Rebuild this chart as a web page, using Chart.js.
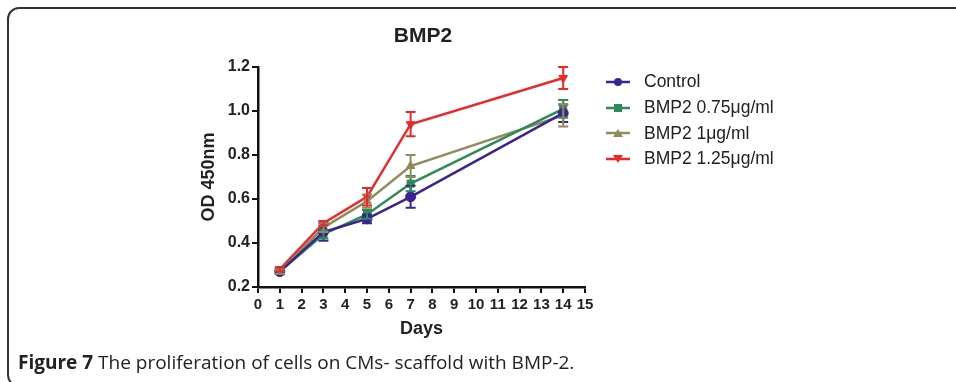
<!DOCTYPE html>
<html>
<head>
<meta charset="utf-8">
<script src="https://cdn.jsdelivr.net/npm/chart.js@4"></script>
<style>
  html, body { margin: 0; padding: 0; background: #fff; }
  body { width: 956px; height: 382px; position: relative; overflow: hidden; font-family: "Liberation Sans", Arial, sans-serif; }
  #frame { position: absolute; left: 7px; top: 7px; width: 980px; height: 380px; border: 2px solid #333; border-radius: 12px; box-sizing: border-box; }
  #wrap { position: absolute; left: 0; top: 0; width: 956px; height: 382px; }
  #title { position: absolute; left: 323px; width: 200px; top: 23px; text-align: center; font-weight: bold; font-size: 21px; color: #222; }
  #legend { position: absolute; left: 606px; top: 69px; font-size: 17.5px; color: #222; }
  #legend div { height: 25.7px; display: flex; align-items: center; }
  #legend svg { margin-right: 14px; }
  #caption { position: absolute; left: 18px; top: 349px; font-family: "Open Sans", sans-serif; font-size: 19px; color: #222; white-space: nowrap; }
</style>
</head>
<body>
<div id="frame"></div>
<div id="wrap"><canvas id="chart"></canvas></div>
<div id="title">BMP2</div>
<div id="legend"></div>
<div id="caption"><b>Figure 7</b> The proliferation of cells on CMs- scaffold with BMP-2.</div>
<script>
const days = [1, 3, 5, 7, 14];
const seriesNames = ['Control', 'BMP2 0.75\u03bcg/ml', 'BMP2 1\u03bcg/ml', 'BMP2 1.25\u03bcg/ml'];
const controlOD = [0.27, 0.45, 0.51, 0.61, 0.99];
const controlErr = [0.01, 0.04, 0.02, 0.05, 0.04];
const bmp075OD = [0.27, 0.44, 0.53, 0.67, 1.01];
const bmp075Err = [0.01, 0.02, 0.02, 0.035, 0.04];
const bmp1OD = [0.27, 0.47, 0.59, 0.75, 0.98];
const bmp1Err = [0.01, 0.02, 0.03, 0.05, 0.05];
const bmp125OD = [0.28, 0.49, 0.61, 0.94, 1.15];
const bmp125Err = [0.01, 0.01, 0.04, 0.055, 0.05];
const xTicks = [0, 15];
const yTicks = [0.2, 1.2];

const colors = ['#3b2390', '#2e8b57', '#8f8b5c', '#ea2a2a'];
const markers = ['circle', 'rect', 'triangle', 'triangle'];
const rotations = [0, 0, 0, 180];
const values = [controlOD, bmp075OD, bmp1OD, bmp125OD];
const errors = [controlErr, bmp075Err, bmp1Err, bmp125Err];

const datasets = values.map(function (vals, i) {
    return {
        label: seriesNames[i],
        data: vals.map(function (v, j) { return { x: days[j], y: v }; }),
        errors: errors[i],
        borderColor: colors[i],
        backgroundColor: colors[i],
        borderWidth: 2.5,
        pointStyle: markers[i],
        rotation: rotations[i],
        pointRadius: 5,
        pointBorderWidth: 1
    };
});

const errorBars = {
    id: 'errorBars',
    afterDatasetsDraw(chart) {
        const ctx = chart.ctx;
        const xs = chart.scales.x, ys = chart.scales.y;
        chart.data.datasets.forEach(function (ds) {
            ctx.save();
            ctx.strokeStyle = ds.borderColor;
            ctx.lineWidth = 2;
            ds.data.forEach(function (p, j) {
                const e = ds.errors[j];
                const px = xs.getPixelForValue(p.x);
                const top = ys.getPixelForValue(p.y + e);
                const bot = ys.getPixelForValue(p.y - e);
                ctx.beginPath();
                ctx.moveTo(px, top); ctx.lineTo(px, bot);
                ctx.moveTo(px - 5, top); ctx.lineTo(px + 5, top);
                ctx.moveTo(px - 5, bot); ctx.lineTo(px + 5, bot);
                ctx.stroke();
            });
            ctx.restore();
        });
    }
};

const fam = '"Liberation Sans", Arial, sans-serif';
const xTickFont = { family: fam, size: 15, weight: 'bold' };
const yTickFont = { family: fam, size: 16, weight: 'bold' };
const titleFont = { family: fam, size: 18, weight: 'bold' };

new Chart(document.getElementById('chart'), {
    type: 'line',
    data: { datasets: datasets },
    options: {
        responsive: true,
        maintainAspectRatio: false,
        animation: false,
        layout: { padding: { left: 196, right: 371, top: 67, bottom: 40 } },
        plugins: { legend: { display: false }, tooltip: { enabled: false }, title: { display: false } },
        scales: {
            x: {
                type: 'linear',
                min: xTicks[0], max: xTicks[1],
                ticks: { stepSize: 1, color: '#222', font: xTickFont, padding: 3, maxRotation: 0, autoSkip: false },
                grid: { display: true, drawOnChartArea: false, drawTicks: true, tickLength: 6, color: '#111', lineWidth: 2 },
                border: { display: true, color: '#111', width: 2.5 },
                title: { display: true, text: 'Days', color: '#222', font: titleFont, padding: { top: 2, bottom: 2 } },
                afterFit(scale) { scale.height = 55; }
            },
            y: {
                min: yTicks[0], max: yTicks[1],
                ticks: { stepSize: 0.2, color: '#222', font: yTickFont, padding: 2, callback: function (v) { return v.toFixed(1); } },
                grid: { display: true, drawOnChartArea: false, drawTicks: true, tickLength: 6, color: '#111', lineWidth: 2 },
                border: { display: true, color: '#111', width: 2.5 },
                title: { display: true, text: 'OD 450nm', color: '#222', font: titleFont, padding: { top: 2, bottom: 4 } },
                afterFit(scale) { scale.width = 62; }
            }
        }
    },
    plugins: [errorBars]
});

// legend: line with marker, then name
const legend = document.getElementById('legend');
seriesNames.forEach(function (name, i) {
    const c = colors[i];
    let mark = '';
    if (markers[i] === 'circle') mark = '<circle cx="12" cy="7" r="4" fill="' + c + '"/>';
    else if (markers[i] === 'rect') mark = '<rect x="8" y="3" width="8" height="8" fill="' + c + '"/>';
    else if (rotations[i] === 180) mark = '<polygon points="7,3 17,3 12,11" fill="' + c + '"/>';
    else mark = '<polygon points="7,11 17,11 12,3" fill="' + c + '"/>';
    const row = document.createElement('div');
    row.innerHTML = '<svg width="24" height="14"><line x1="0" y1="7" x2="24" y2="7" stroke="' + c + '" stroke-width="2.5"/>' + mark + '</svg><span>' + name + '</span>';
    legend.appendChild(row);
});
</script>
</body>
</html>
